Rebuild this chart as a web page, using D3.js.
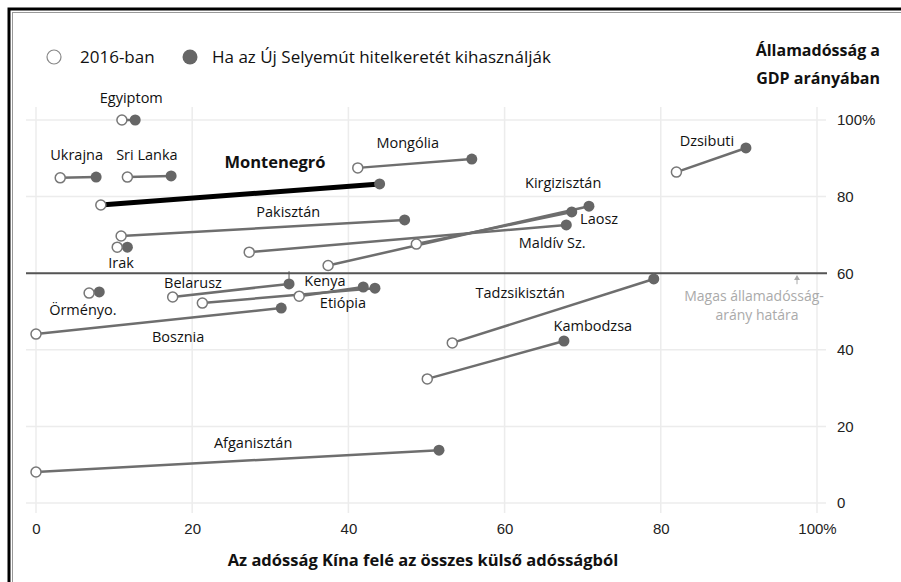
<!DOCTYPE html>
<html>
<head>
<meta charset="utf-8">
<script src="https://d3js.org/d3.v7.min.js"></script>
<style>
  body { margin: 0; background: #fff; }
  svg { display: block; }
  .lbl { font-family: "Open Sans", Lato, sans-serif; font-size: 14.5px; fill: #111; }
  .tick text { font-family: "Liberation Sans", Arial, sans-serif; font-size: 15px; fill: #222; }
</style>
</head>
<body>
<script>
// országok és értékek (x: Kína részesedése a külső adósságból, y: államadósság / GDP)
var countries = ["Egyiptom", "Ukrajna", "Sri Lanka", "Montenegró", "Mongólia", "Dzsibuti",
                 "Pakisztán", "Irak", "Kirgizisztán", "Laosz", "Maldív Sz.",
                 "Örményo.", "Belarusz", "Kenya", "Etiópia", "Bosznia",
                 "Tadzsikisztán", "Kambodzsa", "Afganisztán"];
var x2016 = [11.0, 3.1, 11.7, 8.3, 41.2, 82.0, 10.9, 10.4, 37.4, 48.7, 27.3,
             6.8, 17.5, 33.7, 21.3, 0.0, 53.3, 50.1, 0.0];
var y2016 = [100, 84.9, 85.1, 77.8, 87.5, 86.4, 69.7, 66.8, 62.0, 67.6, 65.5,
             54.8, 53.8, 54.0, 52.2, 44.1, 41.8, 32.4, 8.1];
var xBRI = [12.7, 7.7, 17.3, 44.0, 55.8, 90.9, 47.2, 11.7, 70.8, 68.6, 67.9,
            8.1, 32.4, 41.9, 43.4, 31.4, 79.1, 67.6, 51.6];
var yBRI = [100, 85.1, 85.4, 83.3, 89.8, 92.7, 73.9, 66.8, 77.5, 76.0, 72.6,
            55.1, 57.2, 56.4, 56.1, 50.9, 58.5, 42.3, 13.8];

var xTicks = [0, 20, 40, 60, 80, 100];
var yTicks = [0, 20, 40, 60, 80, 100];
var threshold = 60;

// címkék helye (adat-egységben)
var labelX = [12.2, 5.2, 14.2, 30.6, 47.6, 85.9, 32.3, 10.9, 67.5, 72.1, 66.1,
              6.0, 20.1, 37.0, 39.3, 18.2, 62.0, 71.3, 27.8];
var labelY = [105.7, 90.9, 90.9, 89.0, 94.0, 94.5, 76.0, 62.7, 83.5, 74.2, 67.9,
              50.4, 57.4, 58.0, 52.2, 43.3, 54.8, 46.2, 15.7];

var w = 901, h = 582;

var svg = d3.select("body").append("svg")
    .attr("width", w)
    .attr("height", h);

// keret
svg.append("rect").attr("x", 9).attr("y", 9).attr("width", 1000).attr("height", 1000)
    .attr("fill", "none").attr("stroke", "#000").attr("stroke-width", 3);
svg.append("rect").attr("x", 12.5).attr("y", 12.5).attr("width", 1000).attr("height", 1000)
    .attr("fill", "none").attr("stroke", "#999").attr("stroke-width", 1);

var x = d3.scaleLinear().domain([0, 100]).range([36, 817]);
var y = d3.scaleLinear().domain([0, 100]).range([503, 120]);

// rácsvonalak
svg.append("g").selectAll("line").data(yTicks).enter().append("line")
    .attr("x1", 26).attr("x2", 826)
    .attr("y1", function(d) { return y(d); }).attr("y2", function(d) { return y(d); })
    .attr("stroke", "#ececec").attr("stroke-width", 1.5);
svg.append("g").selectAll("line").data(xTicks).enter().append("line")
    .attr("x1", function(d) { return x(d); }).attr("x2", function(d) { return x(d); })
    .attr("y1", 107).attr("y2", 513)
    .attr("stroke", "#ececec").attr("stroke-width", 1.5);

// tengelyek
var xAxis = svg.append("g").attr("transform", "translate(0,520)")
    .call(d3.axisBottom(x).tickValues(xTicks).tickSize(0)
        .tickFormat(function(d) { return d === 100 ? "100%" : d; }));
xAxis.select(".domain").remove();

var yAxis = svg.append("g").attr("transform", "translate(837,0)")
    .call(d3.axisRight(y).tickValues(yTicks).tickSize(0)
        .tickFormat(function(d) { return d === 100 ? "100%" : d; }));
yAxis.select(".domain").remove();
yAxis.selectAll("text").attr("x", 0);

// 60%-os küszöb
svg.append("line")
    .attr("x1", 26).attr("x2", 827)
    .attr("y1", y(threshold)).attr("y2", y(threshold))
    .attr("stroke", "#555").attr("stroke-width", 2);

// Belarusz jelölő pálcika
svg.append("line")
    .attr("x1", x(xBRI[12])).attr("x2", x(xBRI[12]))
    .attr("y1", y(threshold) - 2).attr("y2", y(yBRI[12]) - 5)
    .attr("stroke", "#555").attr("stroke-width", 1);

// annotáció
var ann = svg.append("text").attr("fill", "#aaa")
    .attr("font-family", "'Open Sans', Lato, sans-serif").attr("font-size", 14)
    .attr("text-anchor", "middle");
ann.append("tspan").attr("x", 754).attr("y", 301).text("Magas államadósság-");
ann.append("tspan").attr("x", 757).attr("y", 320).text("arány határa");
svg.append("line").attr("x1", 797).attr("x2", 797).attr("y1", y(threshold) + 11).attr("y2", y(threshold) + 4)
    .attr("stroke", "#aaa").attr("stroke-width", 1);
svg.append("path").attr("d", "M794,280 L797,275 L800,280 Z").attr("fill", "#aaa");

// összekötő vonalak
var idx = d3.range(countries.length);
svg.append("g").selectAll("line").data(idx).enter().append("line")
    .attr("x1", function(i) { return x(x2016[i]); })
    .attr("y1", function(i) { return y(y2016[i]); })
    .attr("x2", function(i) { return x(xBRI[i]); })
    .attr("y2", function(i) { return y(yBRI[i]); })
    .attr("stroke", function(i) { return countries[i] === "Montenegró" ? "#000" : "#6e6e6e"; })
    .attr("stroke-width", function(i) { return countries[i] === "Montenegró" ? 5 : 2.5; });

// pontok
svg.append("g").selectAll("circle").data(idx).enter().append("circle")
    .attr("cx", function(i) { return x(xBRI[i]); })
    .attr("cy", function(i) { return y(yBRI[i]); })
    .attr("r", 5.5)
    .attr("fill", "#666");
svg.append("g").selectAll("circle").data(idx).enter().append("circle")
    .attr("cx", function(i) { return x(x2016[i]); })
    .attr("cy", function(i) { return y(y2016[i]); })
    .attr("r", 5)
    .attr("fill", "#fff").attr("stroke", "#777").attr("stroke-width", 1.5);

// országnevek
svg.append("g").selectAll("text").data(idx).enter().append("text")
    .attr("class", "lbl")
    .attr("x", function(i) { return x(labelX[i]); })
    .attr("y", function(i) { return y(labelY[i]); })
    .attr("dy", "0.35em")
    .attr("text-anchor", "middle")
    .style("font-weight", function(i) { return countries[i] === "Montenegró" ? "bold" : null; })
    .style("font-size", function(i) { return countries[i] === "Montenegró" ? "16.5px" : null; })
    .text(function(i) { return countries[i]; });

// jelmagyarázat
svg.append("circle").attr("cx", 54).attr("cy", 57).attr("r", 7)
    .attr("fill", "#fff").attr("stroke", "#888").attr("stroke-width", 1.2);
svg.append("text").attr("class", "lbl").attr("x", 80).attr("y", 57).attr("dy", "0.35em")
    .style("font-size", "17px").text("2016-ban");
svg.append("circle").attr("cx", 190).attr("cy", 57).attr("r", 7.5).attr("fill", "#666");
svg.append("text").attr("class", "lbl").attr("x", 212).attr("y", 57).attr("dy", "0.35em")
    .style("font-size", "17px").text("Ha az Új Selyemút hitelkeretét kihasználják");

// címek
var t = svg.append("text").attr("class", "lbl").attr("text-anchor", "end")
    .style("font-weight", "bold").style("font-size", "16px");
t.append("tspan").attr("x", 880).attr("y", 56).text("Államadósság a");
t.append("tspan").attr("x", 880).attr("y", 84).text("GDP arányában");

svg.append("text").attr("class", "lbl").attr("text-anchor", "middle")
    .attr("x", 423).attr("y", 566)
    .style("font-weight", "bold").style("font-size", "16.5px")
    .text("Az adósság Kína felé az összes külső adósságból");
</script>
</body>
</html>
